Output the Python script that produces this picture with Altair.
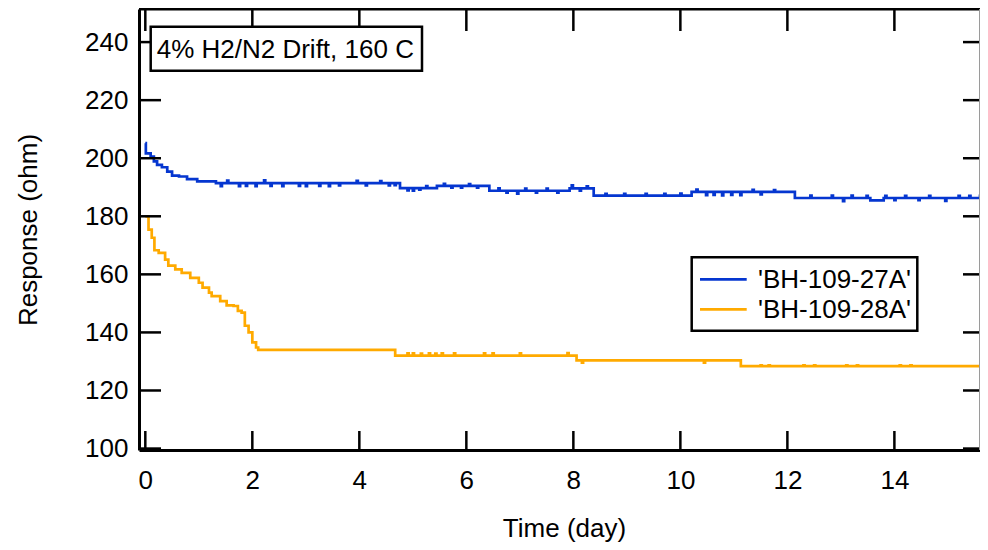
import altair as alt
import pandas as pd

# ---------------- data ----------------
series_names = ["'BH-109-27A'", "'BH-109-28A'"]
series_colors = ["#0536D0", "#FFAA00"]

x_ticks = [0, 2, 4, 6, 8, 10, 12, 14]
y_ticks = [100, 120, 140, 160, 180, 200, 220, 240]
annotation = "4% H2/N2 Drift, 160 C"
x_title = "Time (day)"
y_title = "Response (ohm)"

# BH-109-27A: step levels (day, ohm)
blue_level_days = [0.00, 0.01, 0.10, 0.16, 0.22, 0.31, 0.41, 0.50, 0.63, 0.78, 0.97, 1.32,
                   4.76, 5.45, 6.43, 7.93, 8.38, 10.21, 12.14, 13.55, 13.80, 15.74]
blue_level_vals = [205.2, 201.7, 200.6, 198.9, 197.7, 196.9, 195.4, 194.0, 193.7, 192.8, 192.0, 191.4,
                   189.7, 190.5, 188.8, 189.6, 187.1, 188.4, 186.3, 185.5, 186.3, 186.3]
# BH-109-27A: short excursions (day, ohm)
blue_spike_days = [1.41, 1.53, 1.75, 1.88, 2.06, 2.22, 2.34, 2.56, 2.87, 3.00, 3.25, 3.43, 3.62,
                   3.95, 4.12, 4.39, 4.55, 4.66,
                   4.90, 5.00, 5.12, 5.25,
                   5.58, 5.72, 5.90, 6.05, 6.20,
                   6.60, 6.75, 6.95, 7.10, 7.30, 7.50, 7.70,
                   7.97, 8.12, 8.25,
                   8.60, 8.95, 9.35, 9.70, 10.00,
                   10.30, 10.48, 10.62, 10.78, 10.95, 11.12, 11.35, 11.50, 11.75,
                   12.43, 12.83, 13.04, 13.20, 13.48, 13.83, 14.00, 14.20, 14.45, 14.65,
                   14.95, 15.20, 15.40, 15.60]
blue_spike_vals = [190.4, 192.3, 190.4, 190.5, 190.4, 192.4, 190.5, 190.4, 190.5, 190.4, 190.5, 190.4, 190.6,
                   192.2, 190.6, 192.1, 190.6, 190.7,
                   188.9, 188.8, 189.2, 190.4,
                   191.2, 189.9, 189.9, 191.1, 189.9,
                   189.6, 188.1, 187.8, 189.5, 188.1, 189.5, 188.1,
                   190.7, 188.8, 190.3,
                   187.7, 187.7, 187.7, 187.7, 187.8,
                   189.2, 187.3, 187.4, 187.2, 187.4, 187.3, 189.1, 187.5, 189.0,
                   187.1, 187.1, 185.2, 187.1, 187.0, 187.0, 185.6, 187.0, 185.6, 187.0,
                   185.3, 187.0, 187.0, 187.0]

# BH-109-28A: step levels (day, ohm)
orange_level_days = [0.00, 0.06, 0.12, 0.17, 0.25, 0.37, 0.43, 0.56, 0.68, 0.84, 1.00, 1.07, 1.19,
                     1.24, 1.40, 1.52, 1.65, 1.73, 1.80, 1.86, 1.93, 2.00, 2.07, 2.11, 4.67, 8.06,
                     11.13, 15.74]
orange_level_vals = [180.0, 175.4, 172.6, 168.3, 167.4, 165.1, 163.0, 161.7, 160.5, 158.8, 157.1, 155.4, 153.7,
                     152.5, 150.8, 149.3, 149.1, 147.4, 146.8, 142.3, 140.0, 136.6, 134.8, 134.0, 132.0, 130.4,
                     128.4, 128.4]
orange_spike_days = [4.90, 5.00, 5.15, 5.30, 5.42, 5.54, 5.77, 6.33, 6.49, 7.00, 7.89, 8.16, 10.44,
                     11.50, 11.65, 12.30, 12.50, 13.10, 13.30, 14.10, 14.30]
orange_spike_vals = [132.8, 132.8, 132.7, 132.8, 132.7, 132.8, 132.8, 132.8, 132.8, 132.8, 132.9, 129.6, 129.6,
                     128.7, 128.7, 128.7, 128.7, 128.7, 128.7, 128.7, 128.7]


def build(name, ld, lv, sd, sv, w=0.022):
    pts = list(zip(ld, lv))
    for t, v in zip(sd, sv):
        base = [b for d, b in zip(ld, lv) if d <= t][-1]
        pts += [(t, v), (t + w, base)]
    pts.sort()
    return pd.DataFrame({"day": [p[0] for p in pts], "ohm": [p[1] for p in pts], "series": name})


df = pd.concat([
    build(series_names[0], blue_level_days, blue_level_vals, blue_spike_days, blue_spike_vals),
    build(series_names[1], orange_level_days, orange_level_vals, orange_spike_days, orange_spike_vals),
], ignore_index=True)

# ---------------- layout ----------------
W, H = 841, 441
FONT = "Liberation Sans"
FS = 26

xscale = alt.Scale(domain=[-0.118, 15.60], nice=False, zero=False)
yscale = alt.Scale(domain=[99.5, 251.4], nice=False, zero=False)

x_enc = alt.X("day:Q", scale=xscale,
              axis=alt.Axis(values=x_ticks, title=x_title, labelPadding=17,
                            titleX=425, titleY=86, titleBaseline="alphabetic",
                            titleAlign="center"))
y_enc = alt.Y("ohm:Q", scale=yscale,
              axis=alt.Axis(values=y_ticks, title=y_title, labelPadding=11,
                            titleX=-102.5, titleY=H / 2, titleAngle=270,
                            titleBaseline="alphabetic", titleAlign="center"))

lines = alt.Chart(df).mark_line(interpolate="step-after", strokeWidth=2.7, clip=True).encode(
    x=x_enc, y=y_enc,
    color=alt.Color("series:N", scale=alt.Scale(domain=series_names, range=series_colors), legend=None),
)

ydf = pd.DataFrame({"ohm": y_ticks})
xdf = pd.DataFrame({"day": x_ticks})
one = pd.DataFrame({"label": [annotation]})

left_ticks = alt.Chart(ydf).mark_rule(color="black", strokeWidth=2.5).encode(
    y=y_enc, x=alt.value(0), x2=alt.value(22))
right_ticks = alt.Chart(ydf).mark_rule(color="black", strokeWidth=2.5).encode(
    y=y_enc, x=alt.value(W - 17), x2=alt.value(W))
bottom_ticks = alt.Chart(xdf).mark_rule(color="black", strokeWidth=2.5).encode(
    x=x_enc, y=alt.value(H - 19), y2=alt.value(H))
top_ticks = alt.Chart(xdf).mark_rule(color="black", strokeWidth=2.5).encode(
    x=x_enc, y=alt.value(0), y2=alt.value(22))

top_border = alt.Chart(one).mark_rule(color="black", strokeWidth=3).encode(
    x=alt.value(0), x2=alt.value(W), y=alt.value(0))
right_border = alt.Chart(one).mark_rule(color="#9a9a9a", strokeWidth=1).encode(
    x=alt.value(W - 0.5), y=alt.value(0), y2=alt.value(H))

ann_box = alt.Chart(one).mark_rect(fill="white", stroke="black", strokeWidth=2.5).encode(
    x=alt.value(11.7), x2=alt.value(283), y=alt.value(17.7), y2=alt.value(61.7))
ann_text = alt.Chart(one).mark_text(align="left", baseline="alphabetic", fontSize=FS,
                                    font=FONT, color="black").encode(
    x=alt.value(17.7), y=alt.value(49.3), text="label:N")

# legend drawn as a framed box
leg_box = alt.Chart(one).mark_rect(fill="white", stroke="black", strokeWidth=2.5).encode(
    x=alt.value(552.7), x2=alt.value(778.3), y=alt.value(248.3), y2=alt.value(321.7))
leg_layers = []
for i, (name, col) in enumerate(zip(series_names, series_colors)):
    ry = 270.3 + 30 * i
    d = pd.DataFrame({"series": [name]})
    leg_layers.append(alt.Chart(d).mark_rule(color=col, strokeWidth=2.7).encode(
        x=alt.value(561), x2=alt.value(607.7), y=alt.value(ry)))
    leg_layers.append(alt.Chart(d).mark_text(align="left", baseline="middle", fontSize=FS,
                                             font=FONT, color="black").encode(
        x=alt.value(619), y=alt.value(ry + 1), text="series:N"))

chart = alt.layer(
    lines, left_ticks, right_ticks, bottom_ticks, top_ticks, top_border, right_border,
    ann_box, ann_text, leg_box, *leg_layers
).properties(
    width=W, height=H,
    autosize=alt.AutoSizeParams(type="none"),
    padding={"left": 131, "top": 1, "right": 0, "bottom": 92},
).configure(font=FONT).configure_view(stroke=None).configure_axis(
    grid=False, domainColor="black", domainWidth=3, ticks=False, tickSize=0,
    labelFontSize=FS, labelFont=FONT, labelColor="black",
    titleFontSize=FS, titleFont=FONT, titleColor="black", titleFontWeight="normal",
)

chart.save("out.html", embed_options={"renderer": "svg", "actions": False})
